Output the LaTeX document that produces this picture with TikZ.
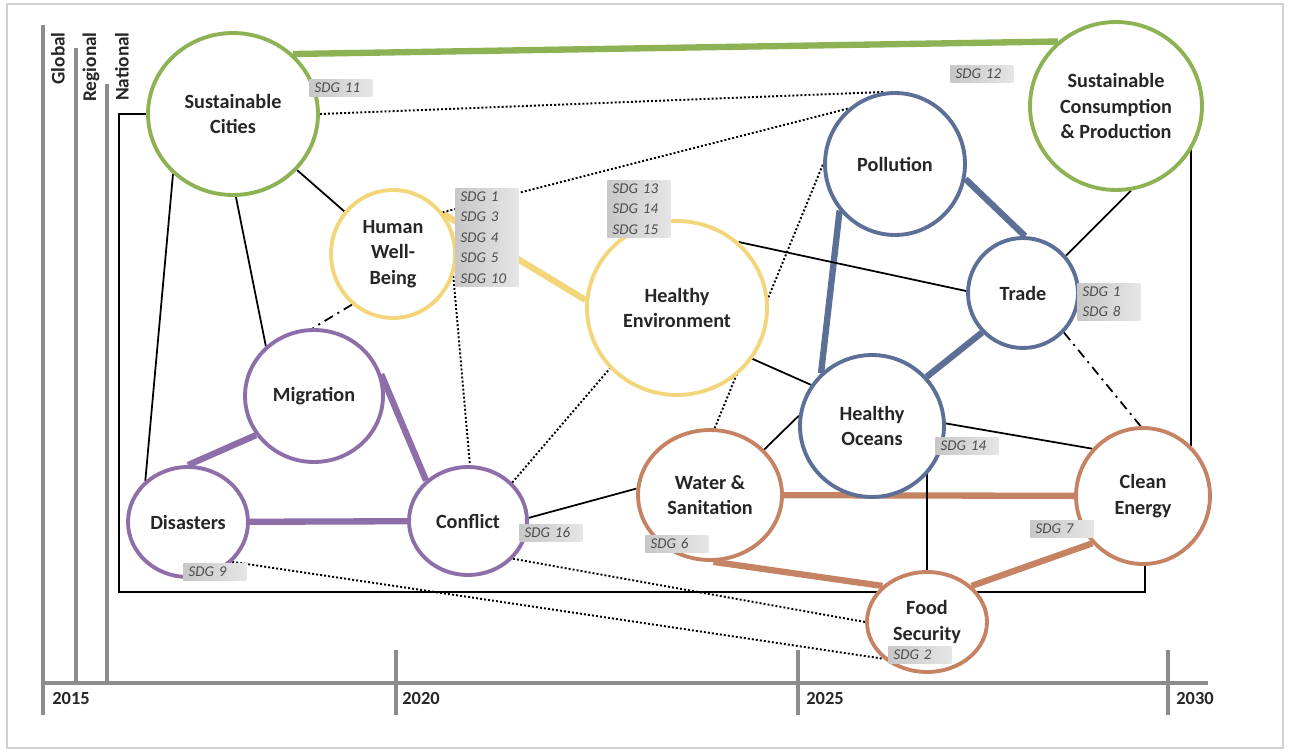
\documentclass[tikz,border=0pt]{standalone}
\usepackage{fontspec}
\setmainfont{Carlito}
\usetikzlibrary{shapes.geometric,backgrounds}

\definecolor{sdggreen}{RGB}{141,178,83}
\definecolor{sdgyellow}{RGB}{243,214,122}
\definecolor{sdgpurple}{RGB}{142,110,168}
\definecolor{sdgblue}{RGB}{92,111,150}
\definecolor{sdgbrown}{RGB}{197,131,99}
\definecolor{axisgray}{RGB}{140,140,140}

\tikzset{
  topic/.style={ellipse, draw, fill=white, line width=2.2pt, align=center, inner sep=0pt,
    font=\bfseries\fontsize{11.5}{14.5}\selectfont, text=black!85},
  sdg/.style={anchor=north west, left color=black!22, right color=black!10,
    font=\itshape\fontsize{8.5}{11.6}\selectfont, text=black!70, align=left,
    text width=1.05cm, inner xsep=3pt, inner ysep=2pt},
  link/.style={line width=1pt},
  weak/.style={line width=1.1pt, dash pattern=on 1.1pt off 1.2pt},
  maybe/.style={line width=1pt, dash pattern=on 5.5pt off 3pt on 1.2pt off 3pt},
  strong/.style={line width=3.6pt},
  axis/.style={axisgray, line width=1.8pt},
  year/.style={font=\bfseries\fontsize{10.5}{12}\selectfont, text=black!85, anchor=west, inner sep=0pt},
  level/.style={rotate=90, anchor=east, font=\bfseries\fontsize{11}{13}\selectfont, text=black!85, inner sep=0pt}
}

\begin{document}
\begin{tikzpicture}[x=0.02cm, y=-0.02cm]
  \useasboundingbox (0,0) rectangle (1290,753);

  % goals
  \node[topic, draw=sdggreen, minimum width=3.40cm, minimum height=3.24cm] (cities) at (233,114) {Sustainable\\Cities};
  \node[topic, draw=sdggreen, minimum width=3.44cm, minimum height=3.36cm] (scp) at (1116,106) {Sustainable\\Consumption\\\& Production};
  \node[topic, draw=sdgyellow, minimum width=2.48cm, minimum height=2.56cm] (wellbeing) at (393,254) {Human\\Well-\\Being};
  \node[topic, draw=sdgyellow, minimum width=3.60cm, minimum height=3.48cm] (environment) at (677,308) {Healthy\\Environment};
  \node[topic, draw=sdgpurple, minimum width=2.76cm, minimum height=2.64cm] (migration) at (314,396) {Migration};
  \node[topic, draw=sdgpurple, minimum width=2.40cm, minimum height=2.20cm] (disasters) at (188,522) {Disasters};
  \node[topic, draw=sdgpurple, minimum width=2.36cm, minimum height=2.16cm] (conflict) at (468,521) {Conflict};
  \node[topic, draw=sdgblue, minimum width=2.80cm, minimum height=2.84cm] (pollution) at (895,164) {Pollution};
  \node[topic, draw=sdgblue, minimum width=2.20cm, minimum height=2.20cm] (trade) at (1023,293) {Trade};
  \node[topic, draw=sdgblue, minimum width=2.88cm, minimum height=2.84cm] (oceans) at (872,426) {Healthy\\Oceans};
  \node[topic, draw=sdgbrown, minimum width=2.88cm, minimum height=2.60cm] (water) at (710,495) {Water \&\\Sanitation};
  \node[topic, draw=sdgbrown, minimum width=2.68cm, minimum height=2.72cm] (energy) at (1143,496) {Clean\\Energy};
  \node[topic, draw=sdgbrown, minimum width=2.40cm, minimum height=2.00cm] (food) at (927,622) {Food\\Security};

  % levels and years
  \node[level] (global) at (58,32) {Global};
  \node[level] (regional) at (91,32) {Regional};
  \node[level] (national) at (122,32) {National};
  \node[year] (y2015) at (52,699) {2015};
  \node[year] (y2020) at (402,699) {2020};
  \node[year] (y2025) at (806,699) {2025};
  \node[year] (y2030) at (1176,699) {2030};

  \coordinate (sw) at (119,592);
  \coordinate (se) at (1145,592);

  \begin{pgfonlayer}{background}
    \fill[white] (0,0) rectangle (1290,753);
    \draw[black!18, line width=1pt] (7,4) rectangle (1283,748);

    \draw[axis] (43,25) -- (43,715);
    \draw[axis] (76,48) -- (76,683);
    \draw[axis] (107,84) -- (107,683);
    \draw[axis] (43,683) -- (1208,683);
    \foreach \x in {396,798,1168}
      \draw[axis] (\x,650) -- (\x,715);

    % strong links
    \draw[strong, sdggreen] (cities.45) -- (scp.132);
    \draw[strong, sdgyellow] (wellbeing.38) -- (environment.175);
    \draw[strong, sdgpurple] (migration.-146) -- (disasters.90);
    \draw[strong, sdgpurple] (migration.18) -- (conflict.136);
    \draw[strong, sdgpurple] (disasters) -- (conflict);
    \draw[strong, sdgblue] (pollution.-140) -- (oceans.134);
    \draw[strong, sdgblue] (pollution.-12) -- (trade.88);
    \draw[strong, sdgblue] (trade.-136) -- (oceans.42);
    \draw[strong, sdgbrown] (water) -- (energy);
    \draw[strong, sdgbrown] (water.-87) -- (food.141);
    \draw[strong, sdgbrown] (food.39) -- (energy.-137);

    % links
    \draw[link] (cities) -- (wellbeing);
    \draw[link] (cities.-88) -- (migration.134);
    \draw[link] (cities.-135) -- (disasters.136);
    \draw[link] (environment.47) -- (trade.178);
    \draw[link] (environment.-34) -- (oceans.146);
    \draw[link] (conflict.3) -- (water.175);
    \draw[link] (water.40) -- (oceans.172);
    \draw[link] (oceans.2) -- (energy.137);
    \draw[link] (food.north) -- (food.north |- oceans.center);
    \draw[link] (trade.41) -- (scp.-80);
    \draw[link] (energy.46) -- (energy.46 |- scp.center);
    \draw[link] (cities.west) -| (sw) -- (se) -- (se |- energy.center);
    \draw[maybe] (wellbeing.-129) -- (migration.91);
    \draw[maybe] (trade.-44) -- (energy.92);

    % weak links
    \draw[weak] (cities.east) -- (pollution.99);
    \draw[weak] (wellbeing.40) -- (pollution.130);
    \draw[weak] (wellbeing.-20) -- (conflict.88);
    \draw[weak] (conflict.41) -- (environment.-138);
    \draw[weak] (water.86) -- (pollution.180);
    \draw[weak] (disasters.-42) -- (food.-140);
    \draw[weak] (conflict.-40) -- (food.180);
  \end{pgfonlayer}

  % goal numbers
  \node[sdg] (sdg11) at (309,79) {SDG 11};
  \node[sdg] (sdg12) at (950,65) {SDG 12};
  \node[sdg] (sdgwell) at (455,188) {SDG 1\\SDG 3\\SDG 4\\SDG 5\\SDG 10};
  \node[sdg] (sdgenv) at (607,180) {SDG 13\\SDG 14\\SDG 15};
  \node[sdg] (sdgtrade) at (1077,283) {SDG 1\\SDG 8};
  \node[sdg] (sdgocean) at (935,437) {SDG 14};
  \node[sdg] (sdgconf) at (519,524) {SDG 16};
  \node[sdg] (sdgwater) at (645,535) {SDG 6};
  \node[sdg] (sdgenergy) at (1030,520) {SDG 7};
  \node[sdg] (sdgdis) at (183,563) {SDG 9};
  \node[sdg] (sdgfood) at (888,646) {SDG 2};
\end{tikzpicture}
\end{document}
